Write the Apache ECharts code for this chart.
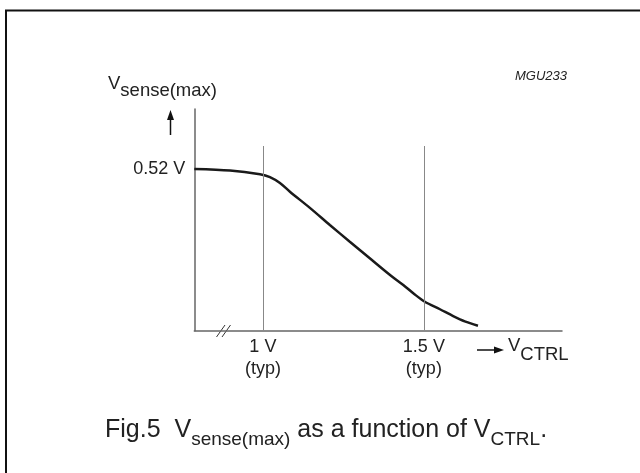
<!DOCTYPE html>
<html>
<head>
<meta charset="utf-8">
<script src="https://cdn.jsdelivr.net/npm/echarts@6/dist/echarts.min.js"></script>
<style>
  html, body { margin: 0; padding: 0; background: #fff; }
  #chart { width: 640px; height: 473px; }
</style>
</head>
<body>
<div id="chart"></div>
<script>
// V_CTRL (V) and V_sense(max) (V)
const vctrl = [0.787, 0.898, 0.991, 1.022, 1.053, 1.084, 1.146, 1.208, 1.270, 1.332, 1.394, 1.436, 1.47, 1.503, 1.55, 1.591, 1.627, 1.668];
const vsense = [0.520, 0.515, 0.503, 0.494, 0.475, 0.447, 0.395, 0.340, 0.286, 0.233, 0.180, 0.147, 0.118, 0.093, 0.069, 0.047, 0.030, 0.016];
// typical points marked with thin vertical lines
const refX = [1, 1.5];
const refTop = 0.594;
const yTicks = [0.52];

const FONT = "'Liberation Sans', Arial, Helvetica, sans-serif";
const TXT = '#222';

const chart = echarts.init(document.getElementById('chart'));

// measure text width so the sub/normal pieces can be chained
const ctx = document.createElement('canvas').getContext('2d');
function textW(str, size) {
  ctx.font = size + 'px ' + FONT;
  return ctx.measureText(str).width;
}
// pieces: [text, fontSize, dy]
function chain(x, y, pieces) {
  const out = [];
  pieces.forEach(p => {
    out.push({
      type: 'text', x: x, y: y + p[2], silent: true,
      style: { text: p[0], fontSize: p[1], fontFamily: FONT, fill: TXT, verticalAlign: 'middle', align: 'left' }
    });
    x += textW(p[0], p[1]);
  });
  return out;
}

const graphics = [
  // frame
  { type: 'rect', shape: { x: 6, y: 10.5, width: 700, height: 500 }, style: { fill: 'none', stroke: '#111', lineWidth: 2 }, silent: true },
  // MGU code
  { type: 'text', x: 567, y: 76, style: { text: 'MGU233', fontSize: 13, fontStyle: 'italic', fontFamily: FONT, fill: TXT, align: 'right', verticalAlign: 'middle' } },
  // up arrow
  { type: 'line', shape: { x1: 170.5, y1: 135, x2: 170.5, y2: 118 }, style: { stroke: '#111', lineWidth: 1.5 } },
  { type: 'polygon', shape: { points: [[170.5, 110], [167, 120], [174, 120]] }, style: { fill: '#111' } },
  // right arrow
  { type: 'line', shape: { x1: 477, y1: 350, x2: 496, y2: 350 }, style: { stroke: '#111', lineWidth: 1.5 } },
  { type: 'polygon', shape: { points: [[504, 350], [494, 346.5], [494, 353.5]] }, style: { fill: '#111' } },
  // axis break marks
  { type: 'line', shape: { x1: 216.5, y1: 337, x2: 225, y2: 325 }, style: { stroke: '#333', lineWidth: 1 } },
  { type: 'line', shape: { x1: 222, y1: 337, x2: 230.5, y2: 325 }, style: { stroke: '#333', lineWidth: 1 } }
]
  .concat(chain(108, 84, [['V', 18.5, 0], ['sense(max)', 18.5, 6.5]]))
  .concat(chain(508, 346, [['V', 18.5, 0], ['CTRL', 18.5, 8.5]]))
  .concat(chain(105, 430.5, [
    ['Fig.5  V', 25, 0], ['sense(max)', 19, 9.5],
    [' as a function of V', 25, 0], ['CTRL', 19, 9.5], ['.', 25, 0]
  ]));

chart.setOption({
  animation: false,
  grid: { left: 194.3, right: 78, top: 109, bottom: 142.3 },
  xAxis: {
    type: 'value', min: 0.787, max: 1.929,
    splitLine: { show: false },
    axisTick: { show: false },
    axisLine: { lineStyle: { color: '#666', width: 1.5 } },
    axisLabel: {
      customValues: refX,
      formatter: v => v + ' V\n(typ)',
      fontSize: 18, lineHeight: 22, margin: 5,
      color: TXT, fontFamily: FONT
    }
  },
  yAxis: {
    type: 'value', min: 0, max: 0.713,
    splitLine: { show: false },
    axisTick: { show: false },
    axisLine: { show: true, lineStyle: { color: '#666', width: 1.5 } },
    axisLabel: {
      customValues: yTicks,
      formatter: v => v + ' V',
      fontSize: 18, margin: 9,
      color: TXT, fontFamily: FONT
    }
  },
  series: [{
    type: 'line',
    data: vctrl.map((x, i) => [x, vsense[i]]),
    smooth: 0.3,
    showSymbol: false,
    lineStyle: { color: '#1a1a1a', width: 2.5 },
    silent: true,
    markLine: {
      silent: true,
      symbol: 'none',
      label: { show: false },
      lineStyle: { color: '#888', width: 1, type: 'solid' },
      data: refX.map(x => [{ coord: [x, 0] }, { coord: [x, refTop] }])
    }
  }],
  graphic: graphics
});
</script>
</body>
</html>
